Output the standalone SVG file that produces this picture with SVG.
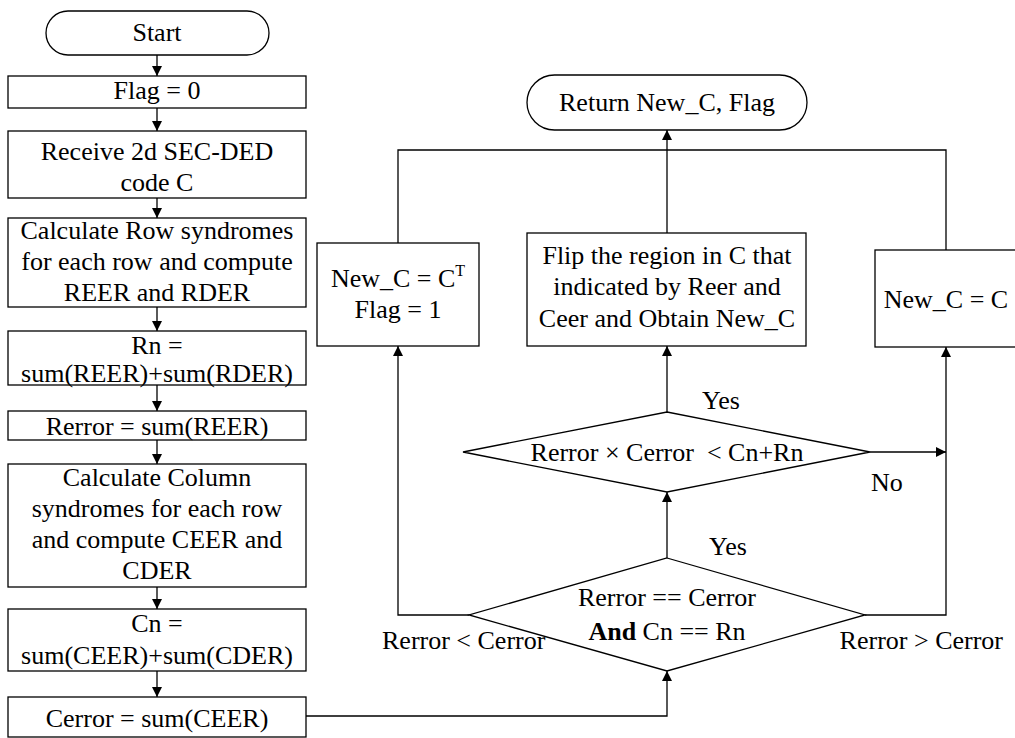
<svg xmlns="http://www.w3.org/2000/svg" width="1015" height="738" viewBox="0 0 1015 738">
<defs>
<style>
.s{fill:#fff;stroke:#000;stroke-width:1.3}
.t{font-family:"Liberation Serif","Times New Roman",serif;font-size:26px;fill:#000;text-anchor:middle;white-space:pre}
.l{font-family:"Liberation Serif","Times New Roman",serif;font-size:26px;fill:#000}
.c{fill:none;stroke:#000;stroke-width:1.3}
</style>
<marker id="ah" markerWidth="10" markerHeight="12" refX="10" refY="5" orient="auto" markerUnits="userSpaceOnUse">
<path d="M0,0 L10,5 L0,10 z" fill="#000"/>
</marker>
</defs>
<rect width="1015" height="738" fill="#fff"/>
<g id="connectors">
<line class="c" x1="157" y1="55" x2="157" y2="76" marker-end="url(#ah)"/>
<line class="c" x1="157" y1="108" x2="157" y2="131" marker-end="url(#ah)"/>
<line class="c" x1="157" y1="198" x2="157" y2="218" marker-end="url(#ah)"/>
<line class="c" x1="157" y1="307" x2="157" y2="331" marker-end="url(#ah)"/>
<line class="c" x1="157" y1="385" x2="157" y2="411" marker-end="url(#ah)"/>
<line class="c" x1="157" y1="440" x2="157" y2="464" marker-end="url(#ah)"/>
<line class="c" x1="157" y1="587" x2="157" y2="609" marker-end="url(#ah)"/>
<line class="c" x1="157" y1="671" x2="157" y2="697" marker-end="url(#ah)"/>
<polyline class="c" points="306,716 667,716 667,671" marker-end="url(#ah)"/>
<line class="c" x1="667" y1="558" x2="667" y2="492" marker-end="url(#ah)"/>
<line class="c" x1="667" y1="412" x2="667" y2="346" marker-end="url(#ah)"/>
<line class="c" x1="667" y1="233" x2="667" y2="130" marker-end="url(#ah)"/>
<polyline class="c" points="469,615 398,615 398,346" marker-end="url(#ah)"/>
<polyline class="c" points="865,615 946,615 946,347" marker-end="url(#ah)"/>
<line class="c" x1="870" y1="452" x2="946" y2="452" marker-end="url(#ah)"/>
<polyline class="c" points="398,243 398,150 946,150 946,250"/>
</g>
<g id="start">
<rect class="s" x="46" y="11" width="223" height="44" rx="22" ry="22"/>
<text class="t" x="157" y="41">Start</text>
</g>
<g id="flag0">
<rect class="s" x="8" y="76" width="298" height="32"/>
<text class="t" x="157" y="99">Flag = 0</text>
</g>
<g id="receive">
<rect class="s" x="8" y="131" width="298" height="67"/>
<text class="t" x="157" y="160">Receive 2d SEC-DED</text>
<text class="t" x="157" y="191">code C</text>
</g>
<g id="rowsyn">
<rect class="s" x="8" y="218" width="298" height="89"/>
<text class="t" x="157" y="239">Calculate Row syndromes</text>
<text class="t" x="157" y="270">for each row and compute</text>
<text class="t" x="157" y="301">REER and RDER</text>
</g>
<g id="rn">
<rect class="s" x="8" y="331" width="298" height="54"/>
<text class="t" x="157" y="354">Rn =</text>
<text class="t" x="157" y="382">sum(REER)+sum(RDER)</text>
</g>
<g id="rerror">
<rect class="s" x="8" y="411" width="298" height="29"/>
<text class="t" x="157" y="435">Rerror = sum(REER)</text>
</g>
<g id="colsyn">
<rect class="s" x="8" y="464" width="298" height="123"/>
<text class="t" x="157" y="486">Calculate Column</text>
<text class="t" x="157" y="517">syndromes for each row</text>
<text class="t" x="157" y="548">and compute CEER and</text>
<text class="t" x="157" y="579">CDER</text>
</g>
<g id="cn">
<rect class="s" x="8" y="609" width="298" height="62"/>
<text class="t" x="157" y="632">Cn =</text>
<text class="t" x="157" y="664">sum(CEER)+sum(CDER)</text>
</g>
<g id="cerror">
<rect class="s" x="8" y="697" width="298" height="40"/>
<text class="t" x="157" y="727">Cerror = sum(CEER)</text>
</g>
<g id="return">
<rect class="s" x="527" y="75" width="280" height="55" rx="27.5" ry="27.5"/>
<text class="t" x="667" y="111">Return New_C, Flag</text>
</g>
<g id="transpose">
<rect class="s" x="317" y="243" width="162" height="103"/>
<text class="t" x="398" y="287">New_C = C<tspan font-size="16" dy="-11">T</tspan></text>
<text class="t" x="398" y="318">Flag = 1</text>
</g>
<g id="flip">
<rect class="s" x="527" y="233" width="279" height="113"/>
<text class="t" x="667" y="264">Flip the region in C that</text>
<text class="t" x="667" y="295">indicated by Reer and</text>
<text class="t" x="667" y="327">Ceer and Obtain New_C</text>
</g>
<g id="same">
<rect class="s" x="875" y="250" width="142" height="97"/>
<text class="t" x="946" y="308">New_C = C</text>
</g>
<g id="dec1">
<polygon class="s" points="667,412 870,452 667,492 463,452"/>
<text class="t" x="667" y="461">Rerror × Cerror  &lt; Cn+Rn</text>
</g>
<g id="dec2">
<polygon class="s" points="667,558 865,615 667,671 469,615"/>
<text class="t" x="667" y="606">Rerror == Cerror</text>
<text class="t" x="667" y="640"><tspan font-weight="bold">And</tspan> Cn == Rn</text>
</g>
<g id="labels">
<text class="l" x="702" y="409">Yes</text>
<text class="l" x="709" y="555">Yes</text>
<text class="l" x="871" y="491">No</text>
<text class="l" x="382" y="649">Rerror &lt; Cerror</text>
<text class="l" x="1003" y="649" text-anchor="end">Rerror &gt; Cerror</text>
</g>
</svg>
